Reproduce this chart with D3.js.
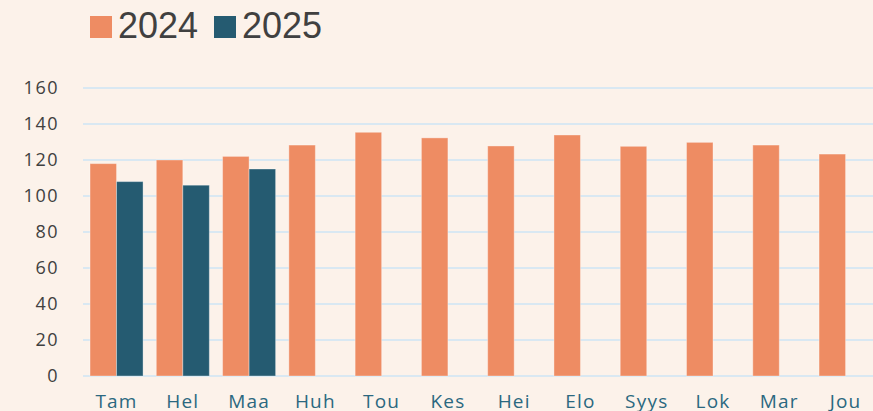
<!DOCTYPE html>
<html>
<head>
<meta charset="utf-8">
<script src="https://cdn.jsdelivr.net/npm/d3@7"></script>
<style>
	html, body {margin: 0; padding: 0; background: #fcf2ea; overflow: hidden;}
	svg {display: block;}
</style>
</head>
<body>
<svg id="chart" width="873" height="411"></svg>
<script>
const months = ["Tam", "Hel", "Maa", "Huh", "Tou", "Kes", "Hei", "Elo", "Syys", "Lok", "Mar", "Jou"];
const seriesNames = ["2024", "2025"];
const values2024 = [118, 120, 122, 128.3, 135.4, 132.3, 127.8, 133.9, 127.6, 129.8, 128.3, 123.3];
const values2025 = [108, 106, 115, null, null, null, null, null, null, null, null, null];
const yTicks = [0, 20, 40, 60, 80, 100, 120, 140, 160];
const colors = ["#ee8c63", "#255b71"];

const svg = d3.select("#chart");
const width = 873;
const height = 411;

const margin = {top: 88, right: 0, bottom: 35, left: 83};

const x0 = d3.scaleBand()
	.domain(months)
	.range([83.4, 878.7])
	.paddingInner(0.2)
	.paddingOuter(0.1);

const x1 = d3.scaleBand()
	.domain(seriesNames)
	.range([0, x0.bandwidth()]);

const y = d3.scaleLinear()
	.domain([0, 160])
	.range([376, 88]);

const color = d3.scaleOrdinal().domain(seriesNames).range(colors);

// gridlines
svg.append("g")
	.selectAll("line")
	.data(yTicks)
	.enter()
	.append("line")
	.attr("x1", margin.left)
	.attr("x2", width)
	.attr("y1", (d) => y(d))
	.attr("y2", (d) => y(d))
	.attr("stroke", "#d9e8f2")
	.attr("stroke-width", 2);

// y labels
const yAxis = d3.axisLeft(y).tickValues(yTicks).tickSize(0).tickPadding(0);
const yG = svg.append("g")
	.attr("transform", "translate(59,0)")
	.call(yAxis);
yG.select(".domain").remove();
yG.selectAll("text")
	.attr("font-family", "'Open Sans', sans-serif")
	.attr("font-size", "18px")
	.attr("letter-spacing", "1.5px")
	.attr("fill", "#404040");

// bars
const rows = months.map((m, i) => ({month: m, vals: [values2024[i], values2025[i]]}));

const group = svg.append("g")
	.selectAll("g")
	.data(rows)
	.enter()
	.append("g")
	.attr("transform", (d) => `translate(${x0(d.month)},0)`);

group.selectAll("rect")
	.data((d) => d.vals.map((v, i) => ({key: seriesNames[i], value: v})).filter((d) => d.value != null))
	.enter()
	.append("rect")
	.attr("x", (d) => x1(d.key))
	.attr("y", (d) => y(d.value))
	.attr("width", x1.bandwidth())
	.attr("height", (d) => y(0) - y(d.value))
	.attr("fill", (d) => color(d.key))
	.attr("stroke", "#ffffff")
	.attr("stroke-opacity", 0.35)
	.attr("stroke-width", 1);

// x labels
const xAxis = d3.axisBottom(x0).tickSize(0).tickPadding(0);
const xG = svg.append("g")
	.attr("transform", "translate(0,394)")
	.call(xAxis);
xG.select(".domain").remove();
xG.selectAll("text")
	.attr("dy", "0.75em")
	.attr("font-family", "'Open Sans', sans-serif")
	.attr("font-size", "19px")
	.attr("letter-spacing", "1.2px")
	.attr("fill", "#2b6880");

// legend
const legend = svg.append("g");
const legendX = [90, 214];
seriesNames.forEach((name, i) => {
	legend.append("rect")
		.attr("x", legendX[i])
		.attr("y", 16)
		.attr("width", 22)
		.attr("height", 22)
		.attr("fill", colors[i]);
	legend.append("text")
		.attr("x", legendX[i] + 28)
		.attr("y", 38)
		.attr("font-family", "'Liberation Sans', Arial, sans-serif")
		.attr("font-size", "36px")
		.attr("fill", "#404040")
		.text(name);
});
</script>
</body>
</html>
